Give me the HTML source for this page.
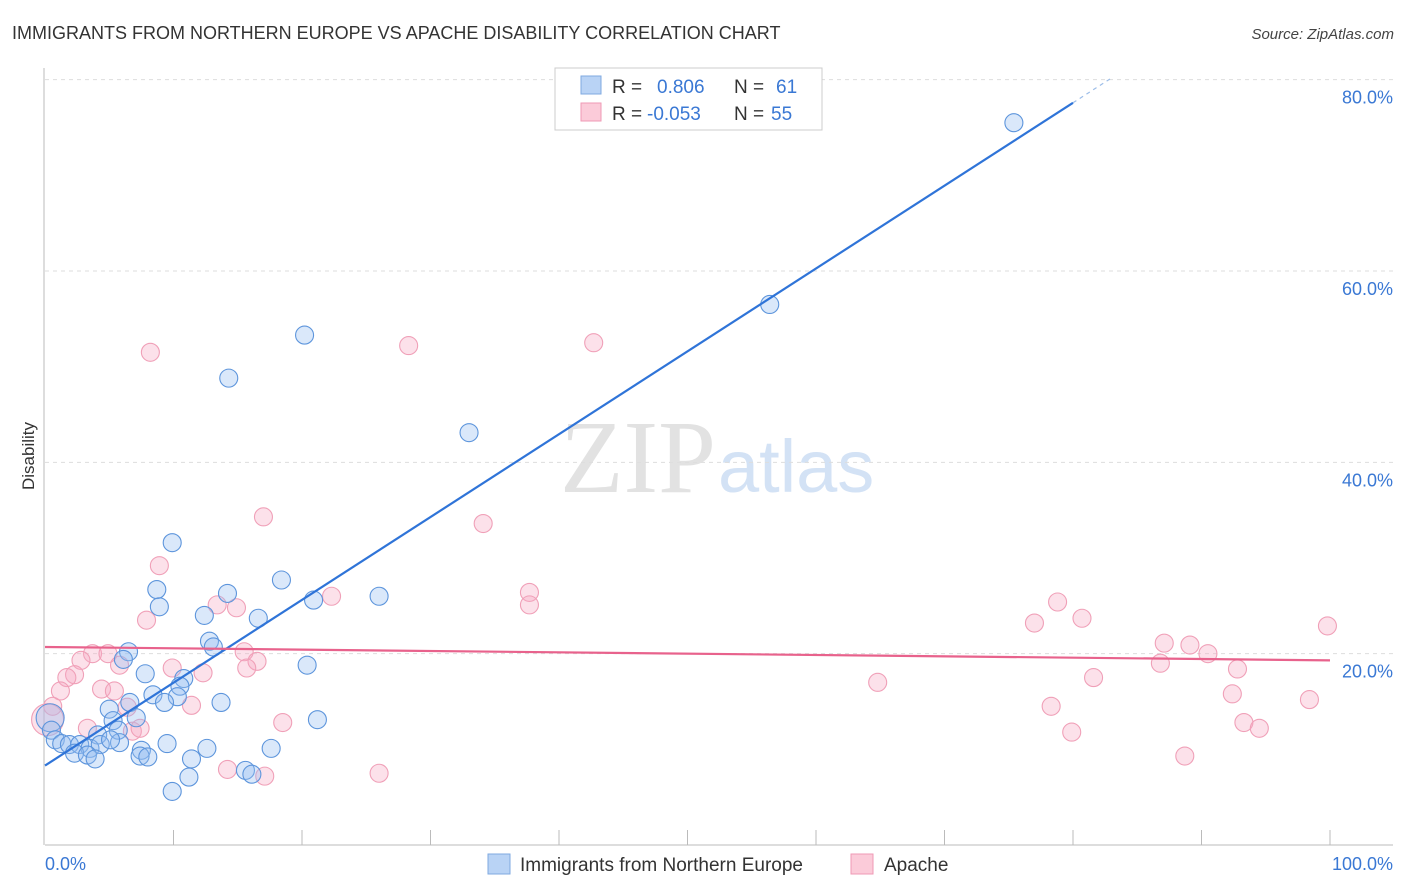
<!DOCTYPE html>
<html><head><meta charset="utf-8"><style>
body{margin:0;background:#fff;font-family:"Liberation Sans",sans-serif;}
#wrap{position:relative;width:1406px;height:892px;overflow:hidden;}
</style></head><body><div id="wrap">
<svg id="svg" width="1406" height="892" xmlns="http://www.w3.org/2000/svg">
<text x="12" y="39" font-size="18" fill="#333">IMMIGRANTS FROM NORTHERN EUROPE VS APACHE DISABILITY CORRELATION CHART</text>
<text x="1394" y="39" font-size="15" fill="#444" font-style="italic" text-anchor="end">Source: ZipAtlas.com</text>
<text x="34" y="456" font-size="17" fill="#333" transform="rotate(-90 34 456)" text-anchor="middle">Disability</text>
<text x="716" y="492" font-size="104" fill="#e2e2e2" text-anchor="end" font-family="Liberation Serif,serif">ZIP</text>
<text x="718" y="492" font-size="74" fill="#d3e2f5">atlas</text>
<g id="grid"></g><g id="pts"></g><g id="lines"></g>
<g>
<rect x="555" y="68" width="267" height="62" fill="#fff" stroke="#ccc"/>
<rect x="581" y="76" width="20" height="18" fill="#b9d3f5" stroke="#7fa9e0"/>
<rect x="581" y="103" width="20" height="18" fill="#fbcbd9" stroke="#ef9ab5"/>
<text x="612" y="93" font-size="19" fill="#333">R = </text><text x="657" y="93" font-size="19" fill="#3a78d4">0.806</text>
<text x="734" y="93" font-size="19" fill="#333">N = </text><text x="776" y="93" font-size="19" fill="#3a78d4">61</text>
<text x="612" y="120" font-size="19" fill="#333">R = </text><text x="647" y="120" font-size="19" fill="#3a78d4">-0.053</text>
<text x="734" y="120" font-size="19" fill="#333">N = </text><text x="771" y="120" font-size="19" fill="#3a78d4">55</text>
</g>
<g>
<rect x="488" y="854" width="22" height="20" fill="#b9d3f5" stroke="#7fa9e0"/>
<text x="520" y="871" font-size="19" fill="#333">Immigrants from Northern Europe</text>
<rect x="851" y="854" width="22" height="20" fill="#fbcbd9" stroke="#ef9ab5"/>
<text x="884" y="871" font-size="19" fill="#333">Apache</text>
</g>
<text x="45" y="870" font-size="18" fill="#3a78d4">0.0%</text>
<text x="1393" y="870" font-size="18" fill="#3a78d4" text-anchor="end">100.0%</text>
</svg>
<script>
const yTicks=[20,40,60,80];
const blueX=[75.4,56.4,20.2,14.3,33.0,9.9,18.4,8.7,14.2,26.0,20.9,8.9,12.4,16.6,12.8,13.1,6.5,6.1,20.4,7.8,10.8,10.5,8.4,10.3,6.6,9.3,13.7,5.0,7.1,5.3,21.2,5.7,4.1,0.4,0.5,0.8,1.3,1.9,2.7,3.5,4.3,5.8,9.5,12.6,17.6,7.5,2.3,3.3,7.4,8.0,3.9,11.4,15.6,16.1,11.2,9.9,5.1];
const blueY=[75.5,56.5,53.3,48.8,43.1,31.6,27.7,26.7,26.3,26.0,25.6,24.9,24.0,23.7,21.3,20.7,20.2,19.4,18.8,17.9,17.4,16.6,15.7,15.5,14.9,14.9,14.9,14.2,13.3,13.0,13.1,12.0,11.5,13.3,12.0,11.0,10.6,10.5,10.5,10.1,10.5,10.7,10.6,10.1,10.1,9.9,9.6,9.4,9.3,9.2,9.0,9.0,7.8,7.4,7.1,5.6,11.0];
const pinkX=[8.2,28.3,42.7,17.0,34.1,8.9,37.7,22.3,37.7,13.4,14.9,7.9,78.8,77.0,80.7,99.8,87.1,89.1,90.5,86.8,92.8,81.6,64.8,92.4,98.4,78.3,93.3,94.5,79.9,88.7,26.0,17.1,14.2,18.5,15.5,16.5,15.7,12.3,9.9,3.7,4.9,2.8,5.8,2.3,1.7,1.2,4.4,5.4,11.4,0.6,3.3,6.4,6.8,7.4,0.2];
const pinkY=[51.5,52.2,52.5,34.3,33.6,29.2,26.4,26.0,25.1,25.1,24.8,23.5,25.4,23.2,23.7,22.9,21.1,20.9,20.0,19.0,18.4,17.5,17.0,15.8,15.2,14.5,12.8,12.2,11.8,9.3,7.5,7.2,7.9,12.8,20.2,19.2,18.5,18.0,18.5,20.0,20.0,19.3,18.8,17.8,17.5,16.1,16.3,16.1,14.6,14.5,12.2,14.4,11.9,12.2,13.1];
const blueTrend=[8.3,0.866]; // intercept, slope
const pinkTrend=[20.7,-0.014];
const X=v=>45+v*12.85, Y=v=>845-v*9.567;
const NS="http://www.w3.org/2000/svg";
function mk(t,a,p){const e=document.createElementNS(NS,t);for(const k in a)e.setAttribute(k,a[k]);document.getElementById(p).appendChild(e);return e;}
yTicks.forEach(t=>{
 const l=mk('line',{x1:45,x2:1393,y1:Y(t),y2:Y(t),stroke:'#ddd','stroke-dasharray':'4,4'},'grid');
 
 
 const tx=mk('text',{x:1393,y:Y(t)+24,'font-size':18,fill:'#3a78d4','text-anchor':'end'},'grid');
 tx.textContent=t.toFixed(1)+'%';
 
 
});
let a=mk('line',{x1:44,x2:44,y1:68,y2:845,stroke:'#bbb'},'grid');


a=mk('line',{x1:45,x2:1393,y1:845,y2:845,stroke:'#bbb'},'grid');


for(let i=1;i<=10;i++){const t=mk('line',{x1:X(i*10),x2:X(i*10),y1:830,y2:845,stroke:'#bbb'},'grid');
 
 }
pinkX.forEach((x,i)=>{const c=mk('circle',{cx:X(x),cy:Y(pinkY[i]),r:i==pinkX.length-1?16:9,fill:'rgba(247,170,195,0.35)',stroke:'#f0a0b8','stroke-width':1.1},'pts');
 
 });
blueX.forEach((x,i)=>{const c=mk('circle',{cx:X(x),cy:Y(blueY[i]),r:i==33?14:9,fill:'rgba(150,190,240,0.35)',stroke:'#5d95dc','stroke-width':1.1},'pts');
 
 });
let bx=80;
let l=mk('line',{x1:X(0),y1:Y(blueTrend[0]),x2:X(bx),y2:Y(blueTrend[0]+blueTrend[1]*bx),stroke:'#2f74d8','stroke-width':2.2},'lines');


l=mk('line',{x1:X(bx),y1:Y(blueTrend[0]+blueTrend[1]*bx),x2:X(83),y2:Y(blueTrend[0]+blueTrend[1]*83),stroke:'#9cbde8','stroke-width':1.2,'stroke-dasharray':'4,4'},'lines');


l=mk('line',{x1:X(0),y1:Y(pinkTrend[0]),x2:X(100),y2:Y(pinkTrend[0]+pinkTrend[1]*100),stroke:'#e8628c','stroke-width':2.2},'lines');


</script></div></body></html>
